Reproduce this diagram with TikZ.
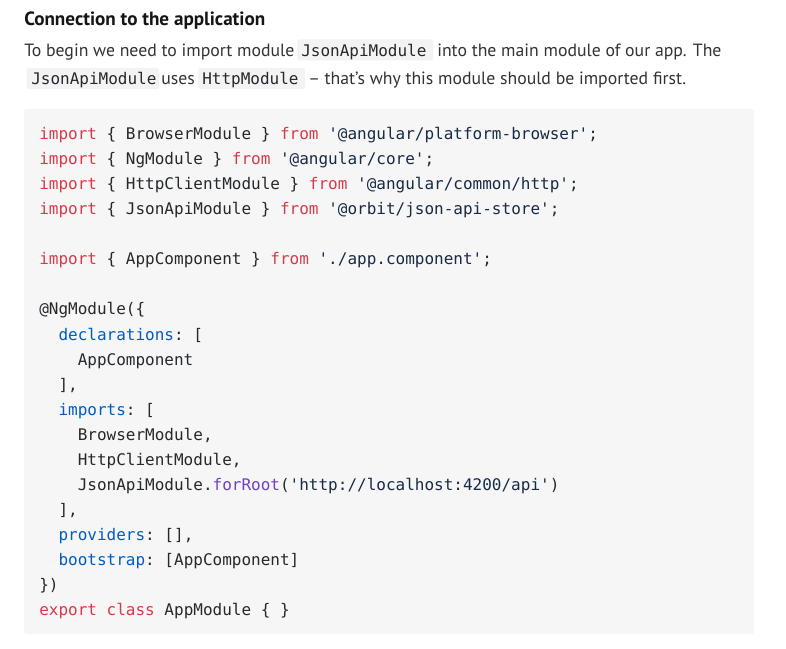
\documentclass[tikz,border=0pt]{standalone}
\usepackage{fontspec}
\setmainfont{PT Sans}
\setmonofont{DejaVu Sans Mono}
\definecolor{kwred}{HTML}{D73A49}
\definecolor{keyblue}{HTML}{005CC5}
\definecolor{fnpurple}{HTML}{6F42C1}
\definecolor{strnavy}{HTML}{182B45}
\definecolor{codetext}{HTML}{24292E}
\definecolor{codebg}{HTML}{F6F6F6}
\definecolor{inlinebg}{HTML}{F3F3F3}
\definecolor{bodytext}{HTML}{333333}
\definecolor{headtext}{HTML}{151515}
\newcommand\ckw[1]{\textcolor{kwred}{#1}}
\newcommand\cky[1]{\textcolor{keyblue}{#1}}
\newcommand\cfn[1]{\textcolor{fnpurple}{#1}}
\newcommand\cstr[1]{\textcolor{strnavy}{#1}}
\begin{document}
\begin{tikzpicture}[x=0.75pt,y=-0.75pt,
  codeline/.style={anchor=base west,inner sep=0pt,text=codetext,font=\ttfamily\fontsize{12}{15}\selectfont},
  bodyrun/.style={anchor=base west,inner sep=0pt,text=bodytext,font=\fontsize{13.3}{16}\selectfont},
  inlinecode/.style={anchor=base west,inner sep=0pt,text=codetext,font=\ttfamily\fontsize{12}{15}\selectfont},
  inlinebox/.style={fill=inlinebg,rounded corners=1.5pt,draw=none},
  headrun/.style={anchor=base west,inner sep=0pt,text=headtext,font=\bfseries\fontsize{14.35}{18}\selectfont}
]
\useasboundingbox (0,0) rectangle (786,649);
\fill[white] (0,0) rectangle (786,649);

% heading
\node[headrun] (head) at (24,26) {Connection to the application};

% paragraph line 1
\node[bodyrun] (p1a) at (24,56.5) {To begin we need to import module};
\fill[inlinebox] (297,39.5) rectangle (433,60.5);
\node[inlinecode] (p1b) at (301,56.5) {JsonApiModule};
\node[bodyrun] (p1c) at (437,56.5) {into the main module of our app. The};

% paragraph line 2
\fill[inlinebox] (26.5,68) rectangle (159,89);
\node[inlinecode] (p2a) at (31,85) {JsonApiModule};
\node[bodyrun] (p2b) at (161,85) {uses};
\fill[inlinebox] (198,68) rectangle (305,89);
\node[inlinecode] (p2c) at (202,85) {HttpModule};
\node[bodyrun] (p2d) at (308,85) {– that’s why this module should be imported first.};

% code block
\fill[codebg,rounded corners=2pt] (24,109) rectangle (754,634);

\node[codeline] (c1) at (39,140) {\ckw{import} \{ BrowserModule \} \ckw{from} \cstr{'@angular/platform-browser'};};
\node[codeline] (c2) at (39,165) {\ckw{import} \{ NgModule \} \ckw{from} \cstr{'@angular/core'};};
\node[codeline] (c3) at (39,190) {\ckw{import} \{ HttpClientModule \} \ckw{from} \cstr{'@angular/common/http'};};
\node[codeline] (c4) at (39,215) {\ckw{import} \{ JsonApiModule \} \ckw{from} \cstr{'@orbit/json-api-store'};};
\node[codeline] (c6) at (39,265) {\ckw{import} \{ AppComponent \} \ckw{from} \cstr{'./app.component'};};
\node[codeline] (c8) at (39,315) {@NgModule(\{};
\node[codeline] (c9) at (58.26,340) {\cky{declarations}: [};
\node[codeline] (c10) at (77.52,365) {AppComponent};
\node[codeline] (c11) at (58.26,390) {],};
\node[codeline] (c12) at (58.26,415) {\cky{imports}: [};
\node[codeline] (c13) at (77.52,440) {BrowserModule,};
\node[codeline] (c14) at (77.52,465) {HttpClientModule,};
\node[codeline] (c15) at (77.52,490) {JsonApiModule.\cfn{forRoot}(\cstr{'http://localhost:4200/api'})};
\node[codeline] (c16) at (58.26,515) {],};
\node[codeline] (c17) at (58.26,540) {\cky{providers}: [],};
\node[codeline] (c18) at (58.26,565) {\cky{bootstrap}: [AppComponent]};
\node[codeline] (c19) at (39,590) {\})};
\node[codeline] (c20) at (39,615) {\ckw{export} \ckw{class} AppModule \{ \}};
\end{tikzpicture}
\end{document}
